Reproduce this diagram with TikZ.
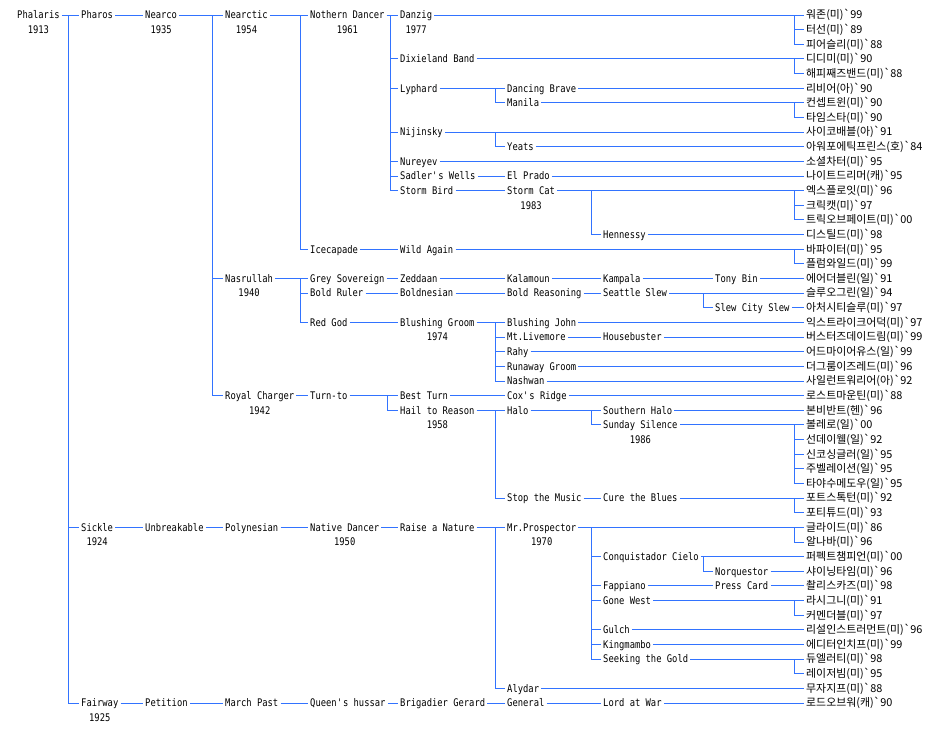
\documentclass[tikz,border=0pt]{standalone}
\usepackage{fontspec}
\setmainfont{DejaVu Sans Mono}[FakeStretch=0.84]
\newfontfamily\kor{Noto Sans CJK KR}
\definecolor{linec}{RGB}{50,115,255}
\tikzset{
 nm/.style={anchor=west,inner xsep=2pt,inner ysep=0pt,text height=7.6pt,text depth=0pt,font=\fontsize{10.5}{12}\selectfont,text=black},
 yr/.style={inner sep=0pt,text height=7.6pt,text depth=0pt,font=\fontsize{10.5}{12}\selectfont,text=black},
 lf/.style={nm,font=\kor\fontsize{10.9}{12}\selectfont},
 ln/.style={draw=linec,line width=1pt}
}
\newcommand\gv{\textasciigrave}
\begin{document}
\begin{tikzpicture}[x=1pt,y=-14.64pt]
\useasboundingbox (0pt,15pt) rectangle (950pt,-719pt);
\fill[white] (0pt,15pt) rectangle (950pt,-719pt);
% bus columns
\coordinate (b0) at (68,0);
\coordinate (b2) at (212,0);
\coordinate (b3) at (300,0);
\coordinate (b4) at (390,0);
\coordinate (b4t) at (387,0);
\coordinate (b5) at (495,0);
\coordinate (b6) at (591,0);
\coordinate (b7) at (703,0);
\coordinate (br) at (794,0);
% column 0
\node[nm] (phalaris) at (15,0) {Phalaris};
% column 1
\node[nm] (pharos) at (79,0) {Pharos};
\node[nm] (sickle) at (79,35) {Sickle};
\node[nm] (fairway) at (79,47) {Fairway};
% column 2
\node[nm] (nearco) at (143,0) {Nearco};
\node[nm] (unbreakable) at (143,35) {Unbreakable};
\node[nm] (petition) at (143,47) {Petition};
% column 3
\node[nm] (nearctic) at (223,0) {Nearctic};
\node[nm] (nasrullah) at (223,18) {Nasrullah};
\node[nm] (royalcharger) at (223,26) {Royal Charger};
\node[nm] (polynesian) at (223,35) {Polynesian};
\node[nm] (marchpast) at (223,47) {March Past};
% column 4
\node[nm] (northern) at (308,0) {Nothern Dancer};
\node[nm] (icecapade) at (308,16) {Icecapade};
\node[nm] (greysov) at (308,18) {Grey Sovereign};
\node[nm] (boldruler) at (308,19) {Bold Ruler};
\node[nm] (redgod) at (308,21) {Red God};
\node[nm] (turnto) at (308,26) {Turn-to};
\node[nm] (nativedancer) at (308,35) {Native Dancer};
\node[nm] (queens) at (308,47) {Queen\textquotesingle s hussar};
% column 5
\node[nm] (danzig) at (398,0) {Danzig};
\node[nm] (dixieland) at (398,3) {Dixieland Band};
\node[nm] (lyphard) at (398,5) {Lyphard};
\node[nm] (nijinsky) at (398,8) {Nijinsky};
\node[nm] (nureyev) at (398,10) {Nureyev};
\node[nm] (sadlers) at (398,11) {Sadler\textquotesingle s Wells};
\node[nm] (stormbird) at (398,12) {Storm Bird};
\node[nm] (wildagain) at (398,16) {Wild Again};
\node[nm] (zeddaan) at (398,18) {Zeddaan};
\node[nm] (boldnesian) at (398,19) {Boldnesian};
\node[nm] (blushinggroom) at (398,21) {Blushing Groom};
\node[nm] (bestturn) at (398,26) {Best Turn};
\node[nm] (hailtoreason) at (398,27) {Hail to Reason};
\node[nm] (raiseanature) at (398,35) {Raise a Nature};
\node[nm] (brigadier) at (398,47) {Brigadier Gerard};
% column 6
\node[nm] (dancingbrave) at (505,5) {Dancing Brave};
\node[nm] (manila) at (505,6) {Manila};
\node[nm] (yeats) at (505,9) {Yeats};
\node[nm] (elprado) at (505,11) {El Prado};
\node[nm] (stormcat) at (505,12) {Storm Cat};
\node[nm] (kalamoun) at (505,18) {Kalamoun};
\node[nm] (boldreasoning) at (505,19) {Bold Reasoning};
\node[nm] (blushingjohn) at (505,21) {Blushing John};
\node[nm] (mtlivemore) at (505,22) {Mt.Livemore};
\node[nm] (rahy) at (505,23) {Rahy};
\node[nm] (runawaygroom) at (505,24) {Runaway Groom};
\node[nm] (nashwan) at (505,25) {Nashwan};
\node[nm] (coxsridge) at (505,26) {Cox\textquotesingle s Ridge};
\node[nm] (halo) at (505,27) {Halo};
\node[nm] (stopthemusic) at (505,33) {Stop the Music};
\node[nm] (mrprospector) at (505,35) {Mr.Prospector};
\node[nm] (alydar) at (505,46) {Alydar};
\node[nm] (general) at (505,47) {General};
% column 7
\node[nm] (hennessy) at (601,15) {Hennessy};
\node[nm] (kampala) at (601,18) {Kampala};
\node[nm] (seattleslew) at (601,19) {Seattle Slew};
\node[nm] (housebuster) at (601,22) {Housebuster};
\node[nm] (southernhalo) at (601,27) {Southern Halo};
\node[nm] (sundaysilence) at (601,28) {Sunday Silence};
\node[nm] (curetheblues) at (601,33) {Cure the Blues};
\node[nm] (conquistador) at (601,37) {Conquistador Cielo};
\node[nm] (fappiano) at (601,39) {Fappiano};
\node[nm] (gonewest) at (601,40) {Gone West};
\node[nm] (gulch) at (601,42) {Gulch};
\node[nm] (kingmambo) at (601,43) {Kingmambo};
\node[nm] (seekinggold) at (601,44) {Seeking the Gold};
\node[nm] (lordatwar) at (601,47) {Lord at War};
% column 8
\node[nm] (tonybin) at (713,18) {Tony Bin};
\node[nm] (slewcity) at (713,20) {Slew City Slew};
\node[nm] (norquestor) at (713,38) {Norquestor};
\node[nm] (presscard) at (713,39) {Press Card};
% years
\node[yr] (phalarisy) at ([yshift=-14.64pt]phalaris.center) {1913};
\node[yr] (nearcoy) at ([yshift=-14.64pt]nearco.center) {1935};
\node[yr] (nearcticy) at ([yshift=-14.64pt]nearctic.center) {1954};
\node[yr] (northerny) at ([yshift=-14.64pt]northern.center) {1961};
\node[yr] (danzigy) at ([yshift=-14.64pt]danzig.center) {1977};
\node[yr] (stormcaty) at ([yshift=-14.64pt]stormcat.center) {1983};
\node[yr] (nasrullahy) at ([yshift=-14.64pt]nasrullah.center) {1940};
\node[yr] (blushinggroomy) at ([yshift=-14.64pt]blushinggroom.center) {1974};
\node[yr] (royalchargery) at ([yshift=-14.64pt]royalcharger.center) {1942};
\node[yr] (hailtoreasony) at ([yshift=-14.64pt]hailtoreason.center) {1958};
\node[yr] (sundaysilencey) at ([yshift=-14.64pt]sundaysilence.center) {1986};
\node[yr] (sickley) at ([yshift=-14.64pt]sickle.center) {1924};
\node[yr] (nativedancery) at ([yshift=-14.64pt]nativedancer.center) {1950};
\node[yr] (mrprospectory) at ([yshift=-14.64pt]mrprospector.center) {1970};
\node[yr] (fairwayy) at ([yshift=-14.64pt]fairway.center) {1925};
% leaves
\node[lf] (l0) at (804,0) {워존(미)\gv 99};
\node[lf] (l1) at (804,1) {터선(미)\gv 89};
\node[lf] (l2) at (804,2) {피어슬리(미)\gv 88};
\node[lf] (l3) at (804,3) {디디미(미)\gv 90};
\node[lf] (l4) at (804,4) {해피째즈밴드(미)\gv 88};
\node[lf] (l5) at (804,5) {리비어(아)\gv 90};
\node[lf] (l6) at (804,6) {컨셉트윈(미)\gv 90};
\node[lf] (l7) at (804,7) {타임스타(미)\gv 90};
\node[lf] (l8) at (804,8) {사이코배블(아)\gv 91};
\node[lf] (l9) at (804,9) {아워포에틱프린스(호)\gv 84};
\node[lf] (l10) at (804,10) {소셜차터(미)\gv 95};
\node[lf] (l11) at (804,11) {나이트드리머(캐)\gv 95};
\node[lf] (l12) at (804,12) {엑스플로잇(미)\gv 96};
\node[lf] (l13) at (804,13) {크릭캣(미)\gv 97};
\node[lf] (l14) at (804,14) {트릭오브페이트(미)\gv 00};
\node[lf] (l15) at (804,15) {디스틸드(미)\gv 98};
\node[lf] (l16) at (804,16) {바파이터(미)\gv 95};
\node[lf] (l17) at (804,17) {플럼와일드(미)\gv 99};
\node[lf] (l18) at (804,18) {에어더블린(일)\gv 91};
\node[lf] (l19) at (804,19) {슬루오그린(일)\gv 94};
\node[lf] (l20) at (804,20) {아처시티슬루(미)\gv 97};
\node[lf] (l21) at (804,21) {익스트라이크어덕(미)\gv 97};
\node[lf] (l22) at (804,22) {버스터즈데이드림(미)\gv 99};
\node[lf] (l23) at (804,23) {어드마이어유스(일)\gv 99};
\node[lf] (l24) at (804,24) {더그룸이즈레드(미)\gv 96};
\node[lf] (l25) at (804,25) {사일런트워리어(아)\gv 92};
\node[lf] (l26) at (804,26) {로스트마운틴(미)\gv 88};
\node[lf] (l27) at (804,27) {본비반트(헨)\gv 96};
\node[lf] (l28) at (804,28) {볼레로(일)\gv 00};
\node[lf] (l29) at (804,29) {선데이웰(일)\gv 92};
\node[lf] (l30) at (804,30) {신코싱글러(일)\gv 95};
\node[lf] (l31) at (804,31) {주벨레이션(일)\gv 95};
\node[lf] (l32) at (804,32) {타야수메도우(일)\gv 95};
\node[lf] (l33) at (804,33) {포트스톡턴(미)\gv 92};
\node[lf] (l34) at (804,34) {포티튜드(미)\gv 93};
\node[lf] (l35) at (804,35) {글라이드(미)\gv 86};
\node[lf] (l36) at (804,36) {알나바(미)\gv 96};
\node[lf] (l37) at (804,37) {퍼펙트챔피언(미)\gv 00};
\node[lf] (l38) at (804,38) {샤이닝타임(미)\gv 96};
\node[lf] (l39) at (804,39) {촬리스카즈(미)\gv 98};
\node[lf] (l40) at (804,40) {라시그니(미)\gv 91};
\node[lf] (l41) at (804,41) {커멘더블(미)\gv 97};
\node[lf] (l42) at (804,42) {리설인스트러먼트(미)\gv 96};
\node[lf] (l43) at (804,43) {에디터인치프(미)\gv 99};
\node[lf] (l44) at (804,44) {듀엘러티(미)\gv 98};
\node[lf] (l45) at (804,45) {레이저빔(미)\gv 95};
\node[lf] (l46) at (804,46) {무자지프(미)\gv 88};
\node[lf] (l47) at (804,47) {로드오브워(캐)\gv 90};
% connectors
\draw[ln] (phalaris.east) -- (pharos.west);
\draw[ln] (phalaris.east -| b0) |- (sickle.west);
\draw[ln] (phalaris.east -| b0) |- (fairway.west);
\draw[ln] (pharos.east) -- (nearco.west);
\draw[ln] (nearco.east) -- (nearctic.west);
\draw[ln] (nearco.east -| b2) |- (nasrullah.west);
\draw[ln] (nearco.east -| b2) |- (royalcharger.west);
\draw[ln] (nearctic.east) -- (northern.west);
\draw[ln] (nearctic.east -| b3) |- (icecapade.west);
\draw[ln] (northern.east) -- (danzig.west);
\foreach \c in {dixieland,lyphard,nijinsky,nureyev,sadlers,stormbird}
  \draw[ln] (northern.east -| b4) |- (\c.west);
\draw[ln] (danzig.east) -- (l0.west);
\draw[ln] (danzig.east -| br) |- (l1.west);
\draw[ln] (danzig.east -| br) |- (l2.west);
\draw[ln] (dixieland.east) -- (l3.west);
\draw[ln] (dixieland.east -| br) |- (l4.west);
\draw[ln] (lyphard.east) -- (dancingbrave.west);
\draw[ln] (lyphard.east -| b5) |- (manila.west);
\draw[ln] (dancingbrave.east) -- (l5.west);
\draw[ln] (manila.east) -- (l6.west);
\draw[ln] (manila.east -| br) |- (l7.west);
\draw[ln] (nijinsky.east) -- (l8.west);
\draw[ln] (nijinsky.east -| b5) |- (yeats.west);
\draw[ln] (yeats.east) -- (l9.west);
\draw[ln] (nureyev.east) -- (l10.west);
\draw[ln] (sadlers.east) -- (elprado.west);
\draw[ln] (elprado.east) -- (l11.west);
\draw[ln] (stormbird.east) -- (stormcat.west);
\draw[ln] (stormcat.east) -- (l12.west);
\draw[ln] (stormcat.east -| br) |- (l13.west);
\draw[ln] (stormcat.east -| br) |- (l14.west);
\draw[ln] (stormcat.east -| b6) |- (hennessy.west);
\draw[ln] (hennessy.east) -- (l15.west);
\draw[ln] (icecapade.east) -- (wildagain.west);
\draw[ln] (wildagain.east) -- (l16.west);
\draw[ln] (wildagain.east -| br) |- (l17.west);
\draw[ln] (nasrullah.east) -- (greysov.west);
\draw[ln] (nasrullah.east -| b3) |- (boldruler.west);
\draw[ln] (nasrullah.east -| b3) |- (redgod.west);
\draw[ln] (greysov.east) -- (zeddaan.west);
\draw[ln] (zeddaan.east) -- (kalamoun.west);
\draw[ln] (kalamoun.east) -- (kampala.west);
\draw[ln] (kampala.east) -- (tonybin.west);
\draw[ln] (tonybin.east) -- (l18.west);
\draw[ln] (boldruler.east) -- (boldnesian.west);
\draw[ln] (boldnesian.east) -- (boldreasoning.west);
\draw[ln] (boldreasoning.east) -- (seattleslew.west);
\draw[ln] (seattleslew.east) -- (l19.west);
\draw[ln] (seattleslew.east -| b7) |- (slewcity.west);
\draw[ln] (slewcity.east) -- (l20.west);
\draw[ln] (redgod.east) -- (blushinggroom.west);
\draw[ln] (blushinggroom.east) -- (blushingjohn.west);
\foreach \c in {mtlivemore,rahy,runawaygroom,nashwan}
  \draw[ln] (blushinggroom.east -| b5) |- (\c.west);
\draw[ln] (blushingjohn.east) -- (l21.west);
\draw[ln] (mtlivemore.east) -- (housebuster.west);
\draw[ln] (housebuster.east) -- (l22.west);
\draw[ln] (rahy.east) -- (l23.west);
\draw[ln] (runawaygroom.east) -- (l24.west);
\draw[ln] (nashwan.east) -- (l25.west);
\draw[ln] (royalcharger.east) -- (turnto.west);
\draw[ln] (turnto.east) -- (bestturn.west);
\draw[ln] (turnto.east -| b4t) |- (hailtoreason.west);
\draw[ln] (bestturn.east) -- (coxsridge.west);
\draw[ln] (coxsridge.east) -- (l26.west);
\draw[ln] (hailtoreason.east) -- (halo.west);
\draw[ln] (hailtoreason.east -| b5) |- (stopthemusic.west);
\draw[ln] (halo.east) -- (southernhalo.west);
\draw[ln] (halo.east -| b6) |- (sundaysilence.west);
\draw[ln] (southernhalo.east) -- (l27.west);
\draw[ln] (sundaysilence.east) -- (l28.west);
\foreach \c in {l29,l30,l31,l32}
  \draw[ln] (sundaysilence.east -| br) |- (\c.west);
\draw[ln] (stopthemusic.east) -- (curetheblues.west);
\draw[ln] (curetheblues.east) -- (l33.west);
\draw[ln] (curetheblues.east -| br) |- (l34.west);
\draw[ln] (sickle.east) -- (unbreakable.west);
\draw[ln] (unbreakable.east) -- (polynesian.west);
\draw[ln] (polynesian.east) -- (nativedancer.west);
\draw[ln] (nativedancer.east) -- (raiseanature.west);
\draw[ln] (raiseanature.east) -- (mrprospector.west);
\draw[ln] (raiseanature.east -| b5) |- (alydar.west);
\draw[ln] (mrprospector.east) -- (l35.west);
\draw[ln] (mrprospector.east -| br) |- (l36.west);
\foreach \c in {conquistador,fappiano,gonewest,gulch,kingmambo,seekinggold}
  \draw[ln] (mrprospector.east -| b6) |- (\c.west);
\draw[ln] (conquistador.east) -- (l37.west);
\draw[ln] (conquistador.east -| b7) |- (norquestor.west);
\draw[ln] (norquestor.east) -- (l38.west);
\draw[ln] (fappiano.east) -- (presscard.west);
\draw[ln] (presscard.east) -- (l39.west);
\draw[ln] (gonewest.east) -- (l40.west);
\draw[ln] (gonewest.east -| br) |- (l41.west);
\draw[ln] (gulch.east) -- (l42.west);
\draw[ln] (kingmambo.east) -- (l43.west);
\draw[ln] (seekinggold.east) -- (l44.west);
\draw[ln] (seekinggold.east -| br) |- (l45.west);
\draw[ln] (alydar.east) -- (l46.west);
\draw[ln] (fairway.east) -- (petition.west);
\draw[ln] (petition.east) -- (marchpast.west);
\draw[ln] (marchpast.east) -- (queens.west);
\draw[ln] (queens.east) -- (brigadier.west);
\draw[ln] (brigadier.east) -- (general.west);
\draw[ln] (general.east) -- (lordatwar.west);
\draw[ln] (lordatwar.east) -- (l47.west);
\end{tikzpicture}
\end{document}
